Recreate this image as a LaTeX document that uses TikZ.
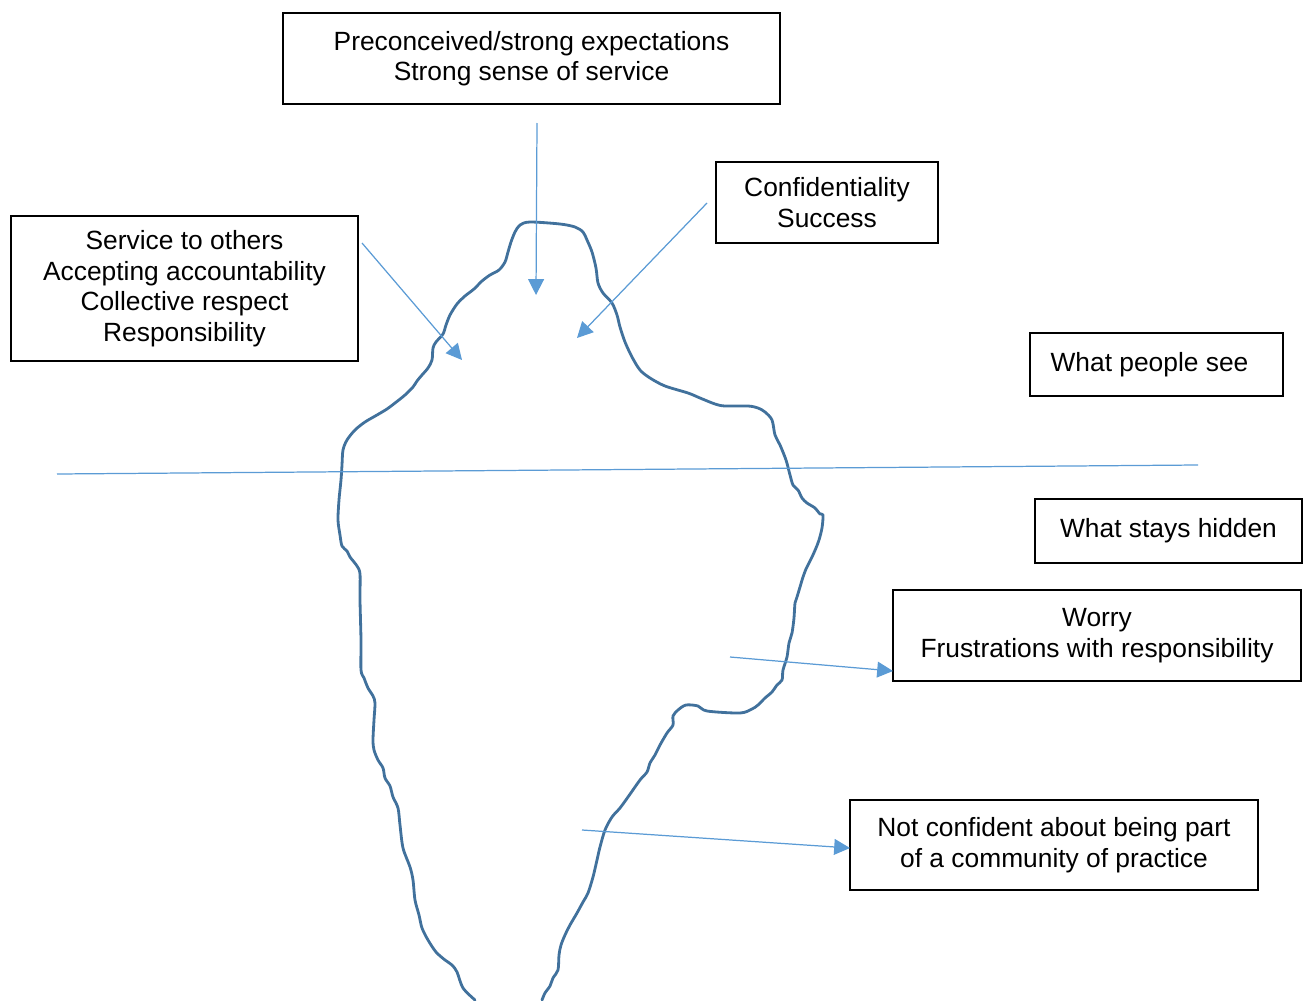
\documentclass[tikz,border=0pt]{standalone}
\usepackage{fontspec}
\setmainfont{Liberation Sans}
\usetikzlibrary{arrows.meta}
\definecolor{bergblue}{HTML}{41719C}
\definecolor{arrowblue}{HTML}{5B9BD5}
\tikzset{
  box/.style={draw=black, line width=0.9pt, align=center, inner sep=0pt,
    font=\fontsize{15}{17.4}\selectfont},
  pointer/.style={draw=arrowblue, line width=0.7pt,
    -{Triangle[length=9pt,width=9pt]}},
  waterline/.style={draw=arrowblue, line width=0.7pt},
  berg/.style={draw=bergblue, line width=1.6pt, line join=round, line cap=round}
}
\begin{document}
\begin{tikzpicture}[x=0.02cm,y=-0.02cm]
\useasboundingbox (0,0) rectangle (1309,1001);

% labelled boxes
\node[box, minimum width=9.94cm, minimum height=1.82cm] (expect) at (531.5,58.5)
  {Preconceived/strong expectations\\Strong sense of service};
\node[box, minimum width=4.44cm, minimum height=1.62cm] (conf) at (827,202.5)
  {Confidentiality\\Success};
\node[box, minimum width=6.94cm, minimum height=2.90cm] (service) at (184.5,288.5)
  {Service to others\\Accepting accountability\\Collective respect\\Responsibility};
\node[box, minimum width=5.06cm, minimum height=1.26cm] (see) at (1156.5,364.5)
  {\raisebox{2pt}{What people see}\hspace*{8pt}};
\node[box, minimum width=5.34cm, minimum height=1.28cm] (hidden) at (1168.5,531)
  {\raisebox{2pt}{What stays hidden}};
\node[box, minimum width=8.16cm, minimum height=1.82cm] (worry) at (1097,635.5)
  {Worry\\Frustrations with responsibility};
\node[box, minimum width=8.16cm, minimum height=1.80cm] (notconf) at (1054,845)
  {Not confident about being part\\of a community of practice};

% iceberg outline
\draw[berg] plot[smooth, tension=0.5] coordinates {
(542,1000)(545,993)(550,986)(553,978)(558,970)(559,955)(561,945)(565,935)(570,925)
(577,913)(583,902)(588,893)(593,877)(597,860)(600,847)(605,830)(612,817)(620,808)
(628,797)(640,780)(647,772)(650,763)(655,755)(660,745)(667,733)(673,725)(673,716)
(678,710)(686,705)(698,706)(707,711)(740,713)(752,709)(758,705)(765,698)(772,692)
(777,685)(782,680)(783,670)(787,657)(789,643)(792,633)(794,618)(795,603)(797,597)
(800,587)(803,577)(806,569)(808,565)(812,557)(816,548)(819,540)(822,528)(823,515)
(820,514)(815,508)(807,503)(802,498)(798,490)(793,485)(790,475)(786,460)(780,445)
(775,435)(772,420)(765,412)(758,408)(748,406)(725,406)(715,404)(700,398)(688,393)
(665,386)(650,378)(640,370)(632,357)(625,342)(620,327)(617,315)(612,303)(603,293)
(598,283)(596,268)(592,252)(587,240)(583,232)(575,227)(560,224)(530,222)(520,225)
(515,232)(511,242)(508,252)(505,262)(499,270)(490,275)(482,281)(474,289)(465,296)
(457,304)(450,315)(446,325)(443,334)(436,342)(433,348)(432,360)(428,368)(422,375)
(417,381)(413,387)(405,395)(395,403)(387,409)(377,415)(365,422)(355,430)(347,440)
(343,450)(342,465)(341,480)(339,500)(338,520)(340,535)(342,546)(347,551)(350,557)
(357,566)(360,574)(360,600)(361,640)(361,670)(364,678)(368,688)(373,696)(375,703)
(374,720)(373,740)(374,750)(378,760)(383,768)(385,778)(390,786)(393,797)(398,808)
(400,825)(403,848)(410,867)(413,880)(415,900)(419,915)(422,928)(428,940)(436,952)
(445,960)(452,965)(457,972)(463,988)(475,1000)};

% water line
\coordinate (wl) at (57,474);
\coordinate (wr) at (1198,465);
\draw[waterline] (wl) -- (wr);

% arrow end points
\coordinate (a1s) at (537,123);  \coordinate (a1e) at (536,295);
\coordinate (a2s) at (362,243);  \coordinate (a2e) at (462,360);
\coordinate (a3s) at (707,203);  \coordinate (a3e) at (577,338);
\coordinate (a4s) at (730,657);  \coordinate (a4e) at (893,671);
\coordinate (a5s) at (582,830);  \coordinate (a5e) at (850,848);

\draw[pointer] (a1s) -- (a1e);
\draw[pointer] (a2s) -- (a2e);
\draw[pointer] (a3s) -- (a3e);
\draw[pointer] (a4s) -- (a4e);
\draw[pointer] (a5s) -- (a5e);
\end{tikzpicture}
\end{document}
